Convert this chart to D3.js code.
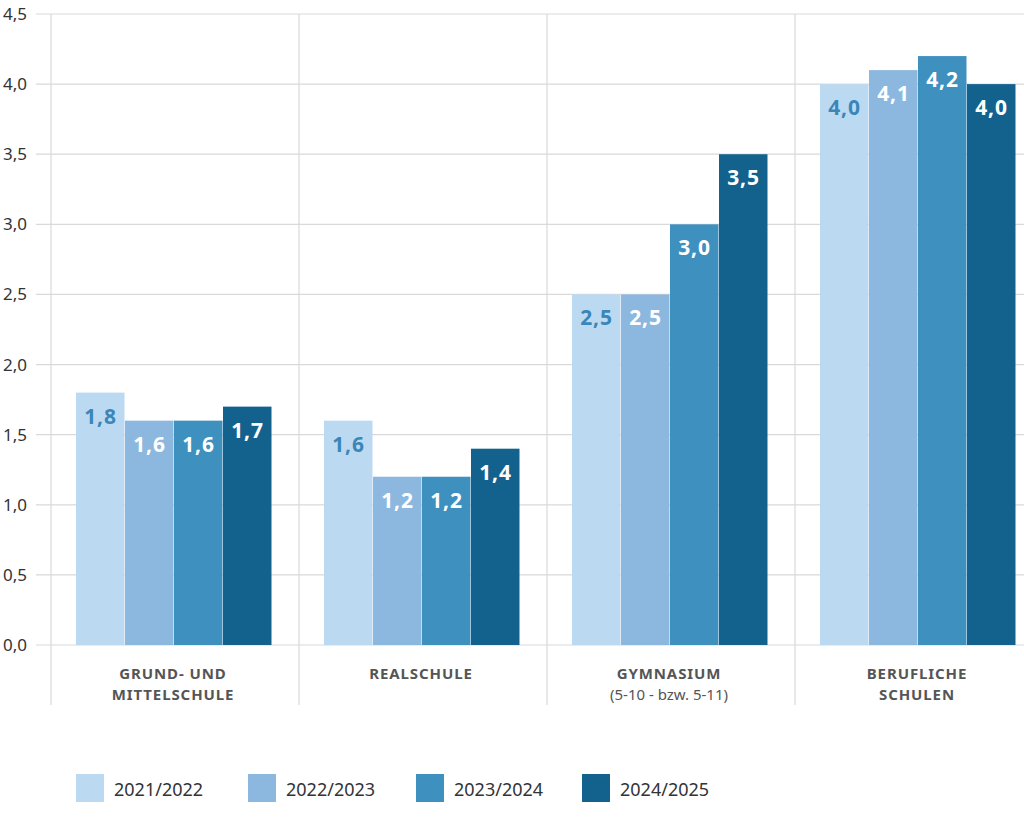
<!DOCTYPE html>
<html>
<head>
<meta charset="utf-8">
<script src="https://cdn.jsdelivr.net/npm/d3@7"></script>
<style>
  body { margin: 0; background: #fff; }
  svg { display: block; font-family: "Noto Sans", sans-serif; }
</style>
</head>
<body>
<script>
const categories = ['GRUND- UND|MITTELSCHULE', 'REALSCHULE', 'GYMNASIUM', 'BERUFLICHE|SCHULEN']
const subtitles = ['', '', '(5-10 - bzw. 5-11)', '']
const years = ['2021/2022', '2022/2023', '2023/2024', '2024/2025']
const values = [
  [1.8, 1.6, 1.6, 1.7],
  [1.6, 1.2, 1.2, 1.4],
  [2.5, 2.5, 3.0, 3.5],
  [4.0, 4.1, 4.2, 4.0]
]
const yTicks = [0, 0.5, 1, 1.5, 2, 2.5, 3, 3.5, 4, 4.5]
const colors = ['#bbdaf2', '#8cb8df', '#3e90bf', '#13628e']

const width = 1024
const height = 837
const plotTop = 14, zero = 645

const fmt = d => d.toFixed(1).replace('.', ',')

let svg = d3.select('body').append('svg')
  .attr('width', width)
  .attr('height', height)

let x0 = d3.scaleBand().domain(d3.range(categories.length)).range([50, 1042])
let x1 = d3.scaleBand().domain(d3.range(years.length)).range([26, 222])
let y = d3.scaleLinear().domain([0, 4.5]).range([zero, plotTop])

// horizontal grid
svg.append('g')
  .selectAll('line')
  .data(yTicks)
  .enter()
  .append('line')
  .attr('x1', 36)
  .attr('x2', width)
  .attr('y1', d => y(d))
  .attr('y2', d => y(d))
  .attr('stroke', '#d9d9d9')
  .attr('stroke-width', 1.2)

// vertical separators
svg.append('g')
  .selectAll('line')
  .data(d3.range(categories.length))
  .enter()
  .append('line')
  .attr('x1', d => x0(d) + 1)
  .attr('x2', d => x0(d) + 1)
  .attr('y1', plotTop)
  .attr('y2', 705)
  .attr('stroke', '#d9d9d9')
  .attr('stroke-width', 1.2)

// y axis labels
let yAxis = d3.axisLeft(y).tickValues(yTicks).tickFormat(fmt).tickSize(0).tickPadding(0)
let gy = svg.append('g')
  .attr('transform', 'translate(27,0)')
  .call(yAxis)
gy.select('.domain').remove()
gy.selectAll('text')
  .attr('fill', '#333')
  .style('font-size', '17px')
  .style('font-family', '"Noto Sans", sans-serif')

// bars
let groups = svg.append('g')
  .selectAll('g')
  .data(values)
  .enter()
  .append('g')
  .attr('transform', (d, i) => `translate(${x0(i)},0)`)

groups.selectAll('rect')
  .data(d => d)
  .enter()
  .append('rect')
  .attr('x', (d, j) => x1(j))
  .attr('y', d => y(d))
  .attr('width', x1.bandwidth() - 0.5)
  .attr('height', d => zero - y(d))
  .attr('fill', (d, j) => colors[j])

groups.selectAll('text.val')
  .data(d => d)
  .enter()
  .append('text')
  .attr('class', 'val')
  .attr('x', (d, j) => x1(j) + x1.bandwidth() / 2)
  .attr('y', d => y(d) + 31)
  .attr('text-anchor', 'middle')
  .attr('fill', (d, j) => j === 0 ? '#3a86b8' : '#fff')
  .style('font-size', '21px')
  .style('font-weight', 'bold')
  .style('letter-spacing', '0.8px')
  .text(fmt)

// category labels
let cat = svg.append('g')
  .selectAll('text')
  .data(categories)
  .enter()
  .append('text')
  .attr('x', (d, i) => x0(i) + x0.bandwidth() / 2 - 1)
  .attr('y', 679)
  .attr('text-anchor', 'middle')
  .attr('fill', '#555')
  .style('font-size', '15px')
  .style('font-weight', 'bold')
  .style('letter-spacing', '0.9px')

cat.selectAll('tspan')
  .data(d => d.split('|'))
  .enter()
  .append('tspan')
  .attr('x', function () { return d3.select(this.parentNode).attr('x') })
  .attr('dy', (d, k) => k === 0 ? 0 : 21)
  .text(d => d)

svg.append('g')
  .selectAll('text')
  .data(subtitles)
  .enter()
  .append('text')
  .attr('x', (d, i) => x0(i) + x0.bandwidth() / 2 - 1)
  .attr('y', 700)
  .attr('text-anchor', 'middle')
  .attr('fill', '#555')
  .style('font-size', '15px')
  .text(d => d)

// legend
const legendX = [76, 248, 416, 582]
let legend = svg.append('g')
  .selectAll('g')
  .data(years)
  .enter()
  .append('g')
  .attr('transform', (d, i) => `translate(${legendX[i]},774)`)

legend.append('rect')
  .attr('width', 28)
  .attr('height', 28)
  .attr('fill', (d, i) => colors[i])

legend.append('text')
  .attr('x', 38)
  .attr('y', 22)
  .attr('fill', '#333')
  .style('font-size', '18px')
  .text(d => d)
</script>
</body>
</html>
